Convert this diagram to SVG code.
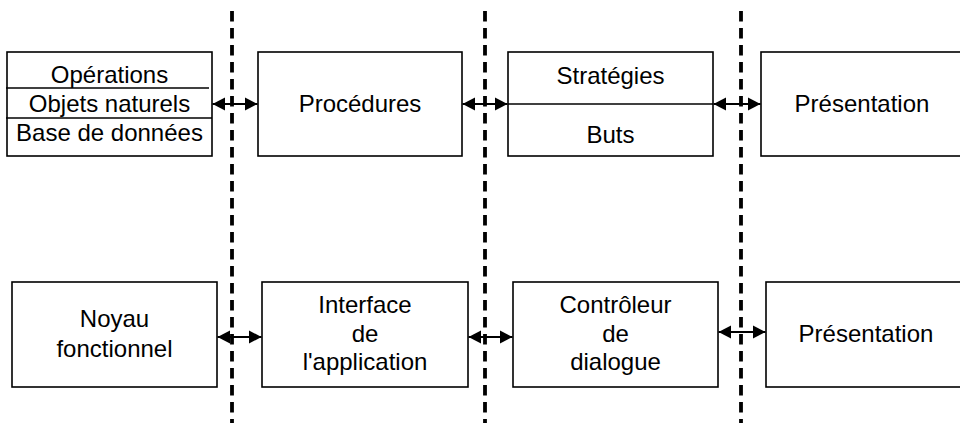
<svg xmlns="http://www.w3.org/2000/svg" width="960" height="423" viewBox="0 0 960 423">
<defs>
<style>
.box{fill:#fff;stroke:#000;stroke-width:1.6}
.div{stroke:#000;stroke-width:1.6;fill:none}
.t{font-family:"Liberation Sans",Arial,sans-serif;font-size:24px;fill:#000;text-anchor:middle}
.sep{stroke:#000;stroke-width:3.8;stroke-dasharray:10.5 6.5;fill:none}
.arr{stroke:#000;stroke-width:1.8;fill:none;marker-start:url(#ah);marker-end:url(#ah)}
</style>
<marker id="ah" markerUnits="userSpaceOnUse" markerWidth="14" markerHeight="14" refX="12.5" refY="7" orient="auto-start-reverse">
<path d="M0,0.5 L12.5,7 L0,13.5 z" fill="#000"/>
</marker>
</defs>
<rect width="960" height="423" fill="#fff"/>

<g id="box-donnees">
<rect class="box" x="7" y="52" width="205" height="104"/>
<line class="div" x1="6" y1="88" x2="209" y2="88"/>
<line class="div" x1="6" y1="118" x2="212" y2="118"/>
<text class="t" x="109.5" y="82.5">Opérations</text>
<text class="t" x="109.5" y="111.5">Objets naturels</text>
<text class="t" x="109.5" y="140.5">Base de données</text>
</g>
<g id="box-procedures">
<rect class="box" x="258" y="52" width="204" height="104"/>
<text class="t" x="360" y="112">Procédures</text>
</g>
<g id="box-strategies">
<rect class="box" x="508" y="52" width="205" height="104"/>
<line class="div" x1="508" y1="104" x2="713" y2="104"/>
<text class="t" x="610.5" y="84">Stratégies</text>
<text class="t" x="610.5" y="143">Buts</text>
</g>
<g id="box-presentation-top">
<rect class="box" x="761" y="52" width="220" height="104"/>
<text class="t" x="862" y="112">Présentation</text>
</g>

<g id="box-noyau">
<rect class="box" x="12" y="282" width="205" height="105"/>
<text class="t" x="114.5" y="327">Noyau</text>
<text class="t" x="114.5" y="357">fonctionnel</text>
</g>
<g id="box-interface">
<rect class="box" x="262" y="282" width="206" height="105"/>
<text class="t" x="365" y="313">Interface</text>
<text class="t" x="365" y="342">de</text>
<text class="t" x="365" y="370">l'application</text>
</g>
<g id="box-controleur">
<rect class="box" x="513" y="282" width="205" height="105"/>
<text class="t" x="615.5" y="313">Contrôleur</text>
<text class="t" x="615.5" y="342">de</text>
<text class="t" x="615.5" y="370">dialogue</text>
</g>
<g id="box-presentation-bottom">
<rect class="box" x="766" y="282" width="220" height="105"/>
<text class="t" x="866" y="342">Présentation</text>
</g>

<g id="connectors">
<line class="sep" x1="232" y1="11" x2="232" y2="423"/>
<line class="sep" x1="485" y1="11" x2="485" y2="423"/>
<line class="sep" x1="741" y1="11" x2="741" y2="423"/>
<line class="arr" x1="212.5" y1="104" x2="257.5" y2="104"/>
<line class="arr" x1="462.5" y1="104" x2="507.5" y2="104"/>
<line class="arr" x1="713.5" y1="104" x2="760.5" y2="104"/>
<line class="arr" x1="217.5" y1="337" x2="261.5" y2="337"/>
<line class="arr" x1="468.5" y1="337" x2="512.5" y2="337"/>
<line class="arr" x1="718.5" y1="332" x2="765.5" y2="332"/>
</g>
</svg>
